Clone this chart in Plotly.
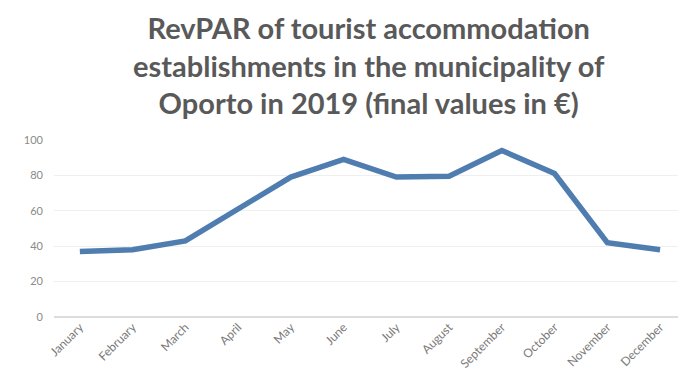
import plotly.graph_objects as go

# Monthly RevPAR, Oporto 2019 (EUR)
months = ["January", "February", "March", "April", "May", "June",
          "July", "August", "September", "October", "November", "December"]
revpar = [37, 38, 43, 61, 79, 89, 79, 79.5, 94, 81, 42, 38]
y_ticks = [0, 20, 40, 60, 80, 100]
title_text = ("RevPAR of tourist accommodation<br>"
              "establishments in the municipality of<br>"
              "Oporto in 2019 (final values in €)")

fig = go.Figure()
fig.add_trace(go.Scatter(
    x=months, y=revpar, mode="lines",
    line=dict(color="#4f7db0", width=5.5),
    hoverinfo="x+y", showlegend=False,
))

fig.add_annotation(
    text=title_text, xref="paper", yref="paper",
    x=0.505, y=1.0, xanchor="center", yanchor="bottom", yshift=17,
    showarrow=False, align="center",
    font=dict(family="Lato", size=29, color="#595959", weight="bold"),
)

fig.update_layout(
    width=678, height=392,
    margin=dict(l=54, r=0, t=139, b=75),
    paper_bgcolor="white", plot_bgcolor="white",
    xaxis=dict(
        type="category", range=[-0.49, 11.34],
        tickangle=-45, tickfont=dict(family="Lato", size=12, color="#7a7a7a"),
        showgrid=False, showline=False, ticks="",
    ),
    yaxis=dict(
        range=[0, 100.5], tickvals=y_ticks,
        tickfont=dict(family="Lato", size=11, color="#8a8a8a"),
        showgrid=True, gridcolor="#efefef", gridwidth=1,
        zeroline=True, zerolinecolor="#dcdcdc", zerolinewidth=2,
        ticks="", ticklabelstandoff=10,
    ),
)

fig.write_html("out.html")
